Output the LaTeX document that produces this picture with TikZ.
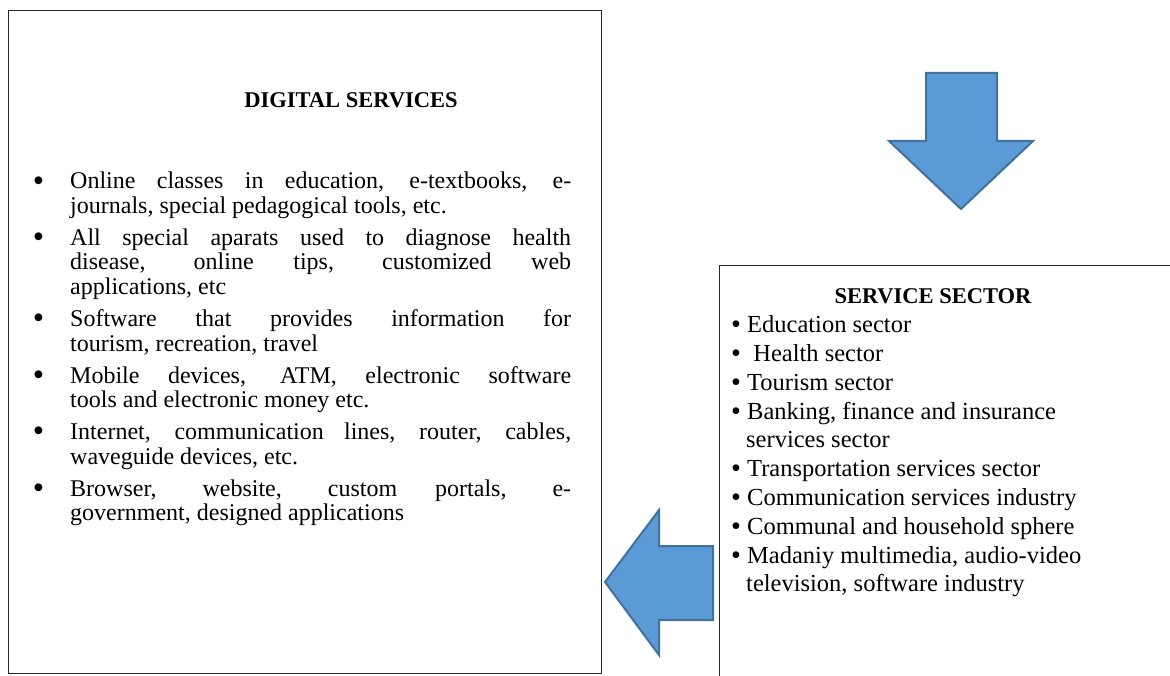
\documentclass[tikz,border=0pt]{standalone}
\usepackage{fontspec}
\usepackage{graphicx}
\setmainfont{Liberation Serif}
\definecolor{arrowfill}{HTML}{5B9BD5}
\definecolor{arrowline}{HTML}{41719C}
\newcommand\J[1]{\makebox[501pt][s]{#1}}
\newcommand\bigblt{\raisebox{-2.2pt}{\scalebox{1.35}{\textbullet}}}
\newcommand\lb{\makebox[0pt][r]{\bigblt\hspace{26pt}}}
\newcommand\rb{\raisebox{-1pt}{\scalebox{1.15}{\textbullet}}}
\begin{document}
\begin{tikzpicture}[x=1pt,y=-1pt,
  box/.style={draw=black!85, line width=1.3pt, inner sep=0, anchor=north west},
  txt/.style={anchor=base west, inner sep=0, font=\fontsize{24}{26}\selectfont},
  rtxt/.style={anchor=base west, inner sep=0, font=\fontsize{24.5}{26}\selectfont},
  ttl/.style={anchor=base, inner sep=0, font=\fontsize{22.5}{26}\selectfont\bfseries},
  bigarrow/.style={fill=arrowfill, draw=arrowline, line width=2pt, line join=miter}]
\useasboundingbox (0,0) rectangle (1170,676);
% boxes
\node[box, minimum width=593pt, minimum height=663pt] (digital) at (8,10) {};
\node[box, minimum width=480pt, minimum height=440pt] (sector) at (719,265) {};
% arrows
\draw[bigarrow] (926,73) -- (997,73) -- (997,141) -- (1033,141) -- (961,209) -- (889,141) -- (926,141) -- cycle;
\draw[bigarrow] (605,582) -- (659,510) -- (659,546) -- (713,546) -- (713,620) -- (659,620) -- (659,655) -- cycle;
% left box text
\node[ttl] (dtitle) at (351,108) {DIGITAL SERVICES};
\node[txt] (l1) at (70,189) {\lb\J{Online classes in education, e-textbooks, e-}};
\node[txt] (l2) at (70,213.5) {journals, special pedagogical tools, etc.};
\node[txt] (l3) at (70,245.5) {\lb\J{All special aparats used to diagnose health}};
\node[txt] (l4) at (70,270) {\J{disease, online tips, customized web}};
\node[txt] (l5) at (70,294.5) {applications, etc};
\node[txt] (l6) at (70,326.5) {\lb\J{Software that provides information for}};
\node[txt] (l7) at (70,351) {tourism, recreation, travel};
\node[txt] (l8) at (70,383) {\lb\J{Mobile devices, ATM, electronic software}};
\node[txt] (l9) at (70,407.5) {tools and electronic money etc.};
\node[txt] (l10) at (70,439.5) {\lb\J{Internet, communication lines, router, cables,}};
\node[txt] (l11) at (70,464) {waveguide devices, etc.};
\node[txt] (l12) at (70,496) {\lb\J{Browser, website, custom portals, e-}};
\node[txt] (l13) at (70,520.5) {government, designed applications};
% right box text
\node[ttl] (stitle) at (933,304) {SERVICE SECTOR};
\node[rtxt] (r1) at (731,332) {\rb\ Education sector};
\node[rtxt] (r2) at (731,361) {\rb\ \ Health sector};
\node[rtxt] (r3) at (731,390) {\rb\ Tourism sector};
\node[rtxt] (r4) at (731,419) {\rb\ Banking, finance and insurance};
\node[rtxt] (r5) at (746,447) {services sector};
\node[rtxt] (r6) at (731,476) {\rb\ Transportation services sector};
\node[rtxt] (r7) at (731,505) {\rb\ Communication services industry};
\node[rtxt] (r8) at (731,534) {\rb\ Communal and household sphere};
\node[rtxt] (r9) at (731,563) {\rb\ Madaniy multimedia, audio-video};
\node[rtxt] (r10) at (746,591) {television, software industry};
\end{tikzpicture}
\end{document}
